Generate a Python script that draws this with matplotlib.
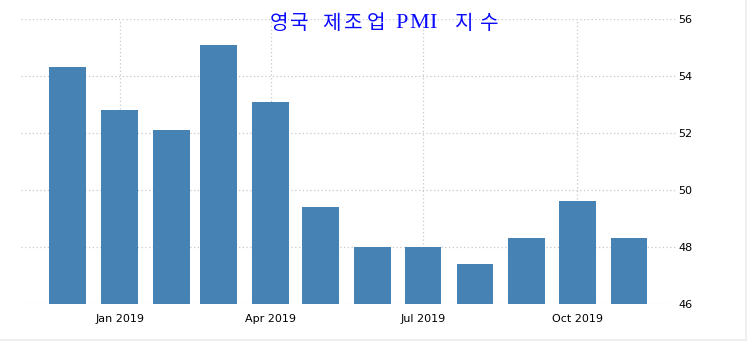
import matplotlib
matplotlib.use("Agg")
import matplotlib.pyplot as plt
import matplotlib.dates as mdates
import numpy as np
import datetime as dt

months = ["2018-12", "2019-01", "2019-02", "2019-03", "2019-04", "2019-05",
          "2019-06", "2019-07", "2019-08", "2019-09", "2019-10", "2019-11"]
values = [54.3, 52.8, 52.1, 55.1, 53.1, 49.4, 48.0, 48.0, 47.4, 48.3, 49.6, 48.3]
yticks = [46, 48, 50, 52, 54, 56]
xtick_months = ["2019-01", "2019-04", "2019-07", "2019-10"]
title = "영국 제조업 PMI 지수"

W, H = 748, 358
dates = [dt.datetime.strptime(m + "-01", "%Y-%m-%d") for m in months]
xt = [dt.datetime.strptime(m + "-01", "%Y-%m-%d") for m in xtick_months]

fig = plt.figure(figsize=(W / 100, H / 100), dpi=100)
ax = fig.add_axes([0.028, 0.1508, 0.8757, 0.7962])

ax.bar(dates, [v - 46 for v in values], bottom=46, width=22, color="#4682B4", zorder=2)

ax.set_ylim(46, 56)
ax.set_xlim(dt.datetime(2018, 11, 3), dt.datetime(2019, 11, 29))
ax.set_yticks(yticks)
ax.set_xticks(xt)
ax.xaxis.set_major_formatter(mdates.DateFormatter("%b %Y"))
ax.yaxis.tick_right()
ax.tick_params(axis="both", length=0, labelsize=8, colors="black")
ax.tick_params(axis="y", pad=1.5)
ax.tick_params(axis="x", pad=7)
for s in ax.spines.values():
    s.set_visible(False)
ax.grid(True, color="#c8c8c8", linestyle=(0, (1, 2)), linewidth=0.9, zorder=0)

# title drawn glyph by glyph with the wide, monospaced pitch of the reference
title_chars = [c for c in title if c != " "]
char_px = [278.7, 299.2, 331.5, 353.5, 376.0, 401.7, 418.8, 433.3, 464.5, 489.2]
for ch, px in zip(title_chars, char_px):
    latin = ch.isascii()
    fig.text(px / W, 1 - 23.5 / H, ch, ha="center", va="center",
             fontsize=16 if latin else 14.5, color="#0a0aff",
             fontweight="normal" if latin else "medium",
             family=["Liberation Serif"] if latin else ["Noto Sans CJK KR", "DejaVu Sans"],
             zorder=5)

fig.add_artist(plt.Line2D([0, 0.9973], [0.0503, 0.0503], color="#ececec", lw=1.2, transform=fig.transFigure))
fig.add_artist(plt.Line2D([0.9973, 0.9973], [0.0503, 1], color="#ececec", lw=1.2, transform=fig.transFigure))

fig.savefig("out.png", dpi=100)
